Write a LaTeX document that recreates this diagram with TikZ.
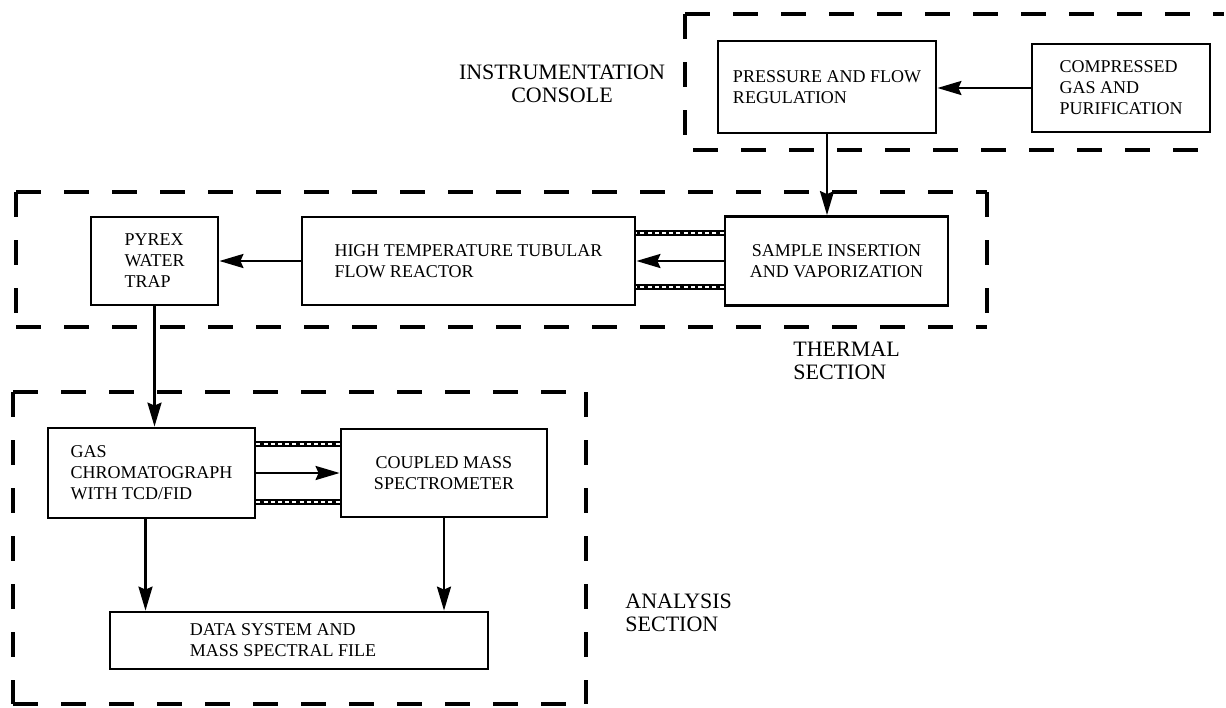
\documentclass[tikz,border=0pt]{standalone}
\usepackage{fontspec}
\setmainfont{Liberation Serif}
\usetikzlibrary{arrows.meta,calc,positioning}

\tikzset{
  blk/.style={draw, line width=1.4pt, align=left, inner sep=0pt,
    font=\fontsize{9}{10.5}\selectfont},
  flow/.style={line width=1.3pt, -{Stealth[length=12pt,width=7pt,inset=1.5pt]}},
  heated/.style={line width=3.4pt,
    postaction={draw=white, line width=1.1pt, dash pattern=on 2pt off 1.6pt}},
  zone/.style={line width=1.6pt, dash pattern=on 12.5pt off 11.5pt},
  tag/.style={align=left, inner sep=0pt, font=\fontsize{11}{11.5}\selectfont}
}

\begin{document}
\begin{tikzpicture}[x=0.5pt,y=-0.5pt]
    \useasboundingbox (0,0) rectangle (1226,707);

    % dashed section outlines
    \draw[zone] (685,14) -- (1224,14);
    \draw[zone] (685,14) -- (685,150) -- (1210,150);
    \draw[zone] (16,192) -- (987,192);
    \draw[zone] (16,192) -- (16,327);
    \draw[zone] (16,327) -- (987,327);
    \draw[zone] (987,192) -- (987,327);
    \draw[zone] (13,392) -- (586,392);
    \draw[zone] (13,392) -- (13,704);
    \draw[zone] (13,704) -- (586,704);
    \draw[zone] (586,392) -- (586,704);

    \node[tag, align=center] (console) at (562,84) {INSTRUMENTATION\\CONSOLE};
    \node[tag, anchor=north west] (thermal) at (793,342) {THERMAL\\SECTION};
    \node[tag, anchor=north west] (analysis) at (625,594) {ANALYSIS\\SECTION};

    % gas supply
    \node[blk, minimum width=109pt, minimum height=46pt] (press) at (827,87)
        {PRESSURE AND FLOW\\REGULATION};
    \node[blk, minimum width=89pt, minimum height=44pt] (comp) at (1121,88)
        {COMPRESSED\\GAS AND\\PURIFICATION};

    % thermal section
    \node[blk, minimum width=111.5pt, minimum height=44.5pt, align=center] (sample) at (836.5,261)
        {SAMPLE INSERTION\\AND VAPORIZATION};
    \node[blk, minimum width=166.5pt, minimum height=44pt] (reactor) at (468.5,261)
        {HIGH TEMPERATURE TUBULAR\\FLOW REACTOR};
    \node[blk, minimum width=63.5pt, minimum height=44pt] (pyrex) at (154.5,261)
        {PYREX\\WATER\\TRAP};

    % analysis section
    \node[blk, minimum width=103.5pt, minimum height=45pt] (gc) at (151.5,473)
        {GAS\\CHROMATOGRAPH\\WITH TCD/FID};
    \node[blk, minimum width=103pt, minimum height=44pt, align=center] (ms) at (444,473)
        {COUPLED MASS\\SPECTROMETER};
    \node[blk, minimum width=189pt, minimum height=28.5pt] (data) at (299,640.5)
        {DATA SYSTEM AND\\MASS SPECTRAL FILE\hspace*{16pt}};

    \draw[flow] (comp.west) -- (comp.west -| press.east);
    \draw[flow] (press.south) -- (press.south |- sample.north);
    \draw[flow] (sample) -- (reactor);
    \draw[heated] ($(sample.west)+(0,-28)$) -- ($(reactor.east)+(0,-28)$);
    \draw[heated] ($(sample.west)+(0,26)$) -- ($(reactor.east)+(0,26)$);
    \draw[flow] (reactor) -- (pyrex);
    \draw[flow] (pyrex.south) -- (pyrex.south |- gc.north);

    \draw[flow] (gc) -- (ms);
    \draw[heated] ($(gc.east)+(0,-29)$) -- ($(ms.west)+(0,-29)$);
    \draw[heated] ($(gc.east)+(0,29)$) -- ($(ms.west)+(0,29)$);
    \draw[flow] ($(gc.south)+(-6,0)$) -- ($(gc.south |- data.north)+(-6,0)$);
    \draw[flow] (ms.south) -- (ms.south |- data.north);
\end{tikzpicture}
\end{document}
